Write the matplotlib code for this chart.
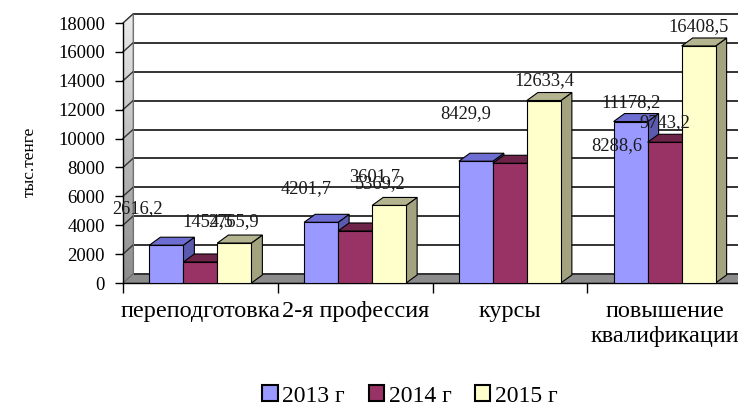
import matplotlib
matplotlib.use("Agg")
import matplotlib.pyplot as plt
import numpy as np
from matplotlib.patches import Polygon, Patch

plt.rcParams['font.family'] = ['Liberation Serif', 'DejaVu Serif']

# ---------------- data ----------------
categories = ["переподготовка", "2-я профессия", "курсы", "повышение\nквалификации"]
series_names = ["2013 г", "2014 г", "2015 г"]
v2013 = [2616.2, 4201.7, 8429.9, 11178.2]
v2014 = [1454.5, 3601.7, 8288.6, 9743.2]
v2015 = [2765.9, 5369.2, 12633.4, 16408.5]
yticks = [0, 2000, 4000, 6000, 8000, 10000, 12000, 14000, 16000, 18000]
label_texts = [["2616,2", "4201,7", "8429,9", "11178,2"],
               ["1454,5", "3601,7", "8288,6", "9743,2"],
               ["2765,9", "5369,2", "12633,4", "16408,5"]]

# ---------------- styles ----------------
front_colors = ["#9999FF", "#993366", "#FFFFCC"]
top_colors = ["#6E6ED2", "#6E2448", "#B4B490"]
side_colors = ["#5A5AAE", "#5A1D3B", "#A3A37F"]
# label offsets (pixels) relative to the top centre of each bar's front face
label_offsets = [[(-29, 37), (-15, 34), (-10, 48), (0, 19)],
                 [(7, 40), (20, 54), (107, 18), (0, 20)],
                 [(-1, 21), (-9, 22), (0, 20), (0, 19)]]

W, H = 738, 409
fig = plt.figure(figsize=(W / 100, H / 100), dpi=100)
ax_left, ax_right = 123, 742
y0_px, ymax_px, top_px = 283, 23, 14
ymax = yticks[-1]
ytop = ymax * (y0_px - top_px) / (y0_px - ymax_px)
ax = fig.add_axes([ax_left / W, (H - y0_px) / H, (ax_right - ax_left) / W, (y0_px - top_px) / H])
ax.set_xlim(0, len(categories))
ax.set_ylim(0, ytop)

px_x = (ax_right - ax_left) / len(categories)
px_y = (y0_px - top_px) / ytop
DXW, DYW = 10 / px_x, ytop - ymax          # wall depth
DXB, DYB = 11 / px_x, 8 / px_y              # bar depth
n = len(categories)

# left side wall with vertical gradient
side_wall = Polygon([(0, 0), (DXW, DYW), (DXW, ytop), (0, ymax)], closed=True,
                    facecolor="none", edgecolor="#808080", lw=0.6, zorder=1.2)
ax.add_patch(side_wall)
grad = np.linspace(0.55, 0.92, 100).reshape(-1, 1)
im = ax.imshow(grad, cmap="gray", vmin=0, vmax=1, extent=[0, DXW, 0, ytop],
               origin="lower", aspect="auto", zorder=1.1)
im.set_clip_path(side_wall)

# floor
floor = Polygon([(0, 0), (n, 0), (n + DXW, DYW), (DXW, DYW)], closed=True,
                facecolor="#8C8C8C", edgecolor="#606060", lw=0.6, zorder=1.3)
ax.add_patch(floor)

# gridlines on back wall and side wall
for v in yticks:
    ax.plot([DXW, n + DXW], [v + DYW, v + DYW], color="#333333", lw=1.4, zorder=1.5,
            solid_capstyle="butt", clip_on=False)
    if v > 0:
        ax.plot([0, DXW], [v, v + DYW], color="#333333", lw=1.0, zorder=1.5, clip_on=False)
ax.plot([DXW, DXW], [DYW, ytop], color="#707070", lw=0.8, zorder=1.5)

# bars
x = np.arange(n) + 0.5
bw = 34 / px_x
all_vals = [v2013, v2014, v2015]
for j, vals in enumerate(all_vals):
    bars = ax.bar(x + (j - 1) * bw, vals, width=bw, color=front_colors[j],
                  edgecolor="black", linewidth=0.8, zorder=4 + 2 * j)
    for i, b in enumerate(bars):
        bx, bwid, bh = b.get_x(), b.get_width(), b.get_height()
        top = Polygon([(bx, bh), (bx + bwid, bh), (bx + bwid + DXB, bh + DYB), (bx + DXB, bh + DYB)],
                      closed=True, facecolor=top_colors[j], edgecolor="black", lw=0.8,
                      zorder=3 + 2 * j, clip_on=False)
        side = Polygon([(bx + bwid, 0), (bx + bwid + DXB, DYB), (bx + bwid + DXB, bh + DYB), (bx + bwid, bh)],
                       closed=True, facecolor=side_colors[j], edgecolor="black", lw=0.8,
                       zorder=3 + 2 * j, clip_on=False)
        ax.add_patch(side)
        ax.add_patch(top)
        ox, oy = label_offsets[j][i]
        ax.annotate(label_texts[j][i], (bx + bwid / 2, bh), xytext=(ox, oy),
                    textcoords="offset pixels", ha="center", va="center",
                    fontsize=13.3, color="#1a1a1a", zorder=20, annotation_clip=False)

# axes styling
for s in ["top", "right"]:
    ax.spines[s].set_visible(False)
ax.spines["left"].set_bounds(0, ymax)
ax.spines["left"].set_linewidth(1.0)
ax.spines["bottom"].set_linewidth(1.0)
ax.spines["left"].set_zorder(2)
ax.spines["bottom"].set_zorder(2)
ax.set_yticks(yticks)
ax.set_yticklabels([str(t) for t in yticks], fontsize=13.5)
ax.tick_params(axis="y", direction="out", length=6, width=1.0, pad=7)
ax.set_xticks(np.arange(n + 1))
ax.set_xticklabels([])
ax.tick_params(axis="x", which="major", direction="out", length=7, width=1.0)
ax.set_xticks(x, minor=True)
ax.set_xticklabels(categories, minor=True, fontsize=17.5, linespacing=1.25)
ax.tick_params(axis="x", which="minor", length=0, pad=13)

fig.text(30 / W, 1 - 162 / H, "тыс.тенге", rotation=90, ha="center", va="center", fontsize=12.5)

handles = [Patch(facecolor=front_colors[j], edgecolor="black", linewidth=1.5) for j in range(3)]
fig.legend(handles, series_names, loc="center", bbox_to_anchor=(410 / W, 1 - 396 / H),
           ncol=3, frameon=False, fontsize=17, handlelength=0.65, handleheight=0.65,
           handletextpad=0.2, columnspacing=1.0, borderaxespad=0)

fig.savefig("out.png", dpi=100)
